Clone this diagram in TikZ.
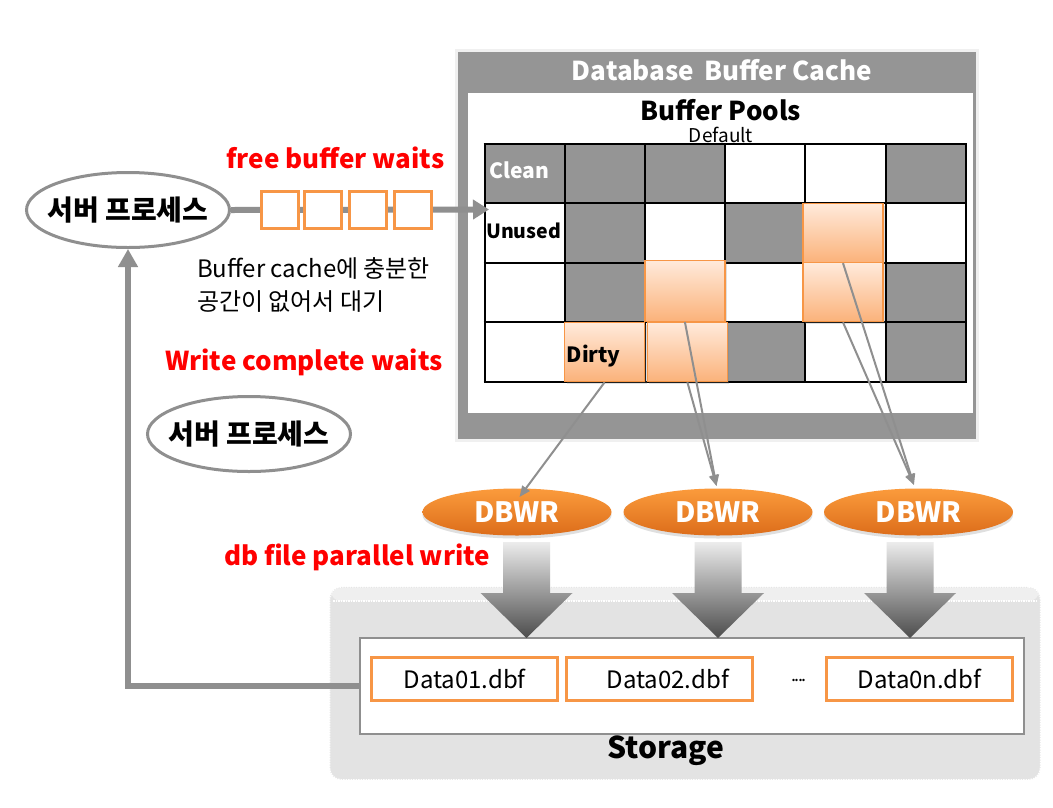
\documentclass[tikz,border=0pt]{standalone}
\usepackage{fontspec}
\setmainfont{Noto Sans CJK KR}
\usetikzlibrary{arrows.meta,shadows,calc,shapes.geometric}
\definecolor{frameG}{HTML}{959595}
\definecolor{orangeB}{HTML}{F79646}
\definecolor{peachT}{HTML}{FFEADB}
\definecolor{peachB}{HTML}{FBB27A}
\definecolor{lineG}{HTML}{8F8F8F}
\definecolor{dbT}{HTML}{FB9B3C}
\definecolor{dbB}{HTML}{DC6C1A}
\definecolor{redT}{HTML}{FF0000}
\definecolor{stoG}{HTML}{E3E3E3}
\newcommand{\fs}[1]{\fontsize{#1}{#1}\selectfont}
\begin{document}
\begin{tikzpicture}[x=1pt,y=-1pt,
  proc/.style={ellipse,draw=lineG,line width=3pt,fill=white,minimum width=203pt,minimum height=75pt,inner sep=0pt},
  proctext/.style={font=\bfseries\fs{28},inner sep=0pt},
  qbox/.style={draw=orangeB,line width=3pt,fill=white,minimum width=37pt,minimum height=37pt,inner sep=0pt},
  ocell/.style={draw=orangeB,line width=1.2pt,top color=peachT,bottom color=peachB,inner sep=0pt,drop shadow={opacity=0.25,shadow xshift=2pt,shadow yshift=-2pt}},
  dbwr/.style={ellipse,top color=dbT,bottom color=dbB,minimum width=189pt,minimum height=47pt,inner sep=0pt,drop shadow={opacity=0.25,shadow xshift=0pt,shadow yshift=-3pt}},
  dbtext/.style={text=white,font=\bfseries\fs{28},inner sep=0pt},
  fbox/.style={draw=orangeB,line width=3pt,fill=white,minimum width=186pt,minimum height=43pt,inner sep=0pt,font=\fs{24}},
  redlab/.style={text=redT,font=\bfseries\fs{26},inner sep=0pt},
  conn/.style={draw=lineG,line width=2pt,-{Triangle[width=9pt,length=11pt]}},
  thick/.style={draw=lineG,line width=6pt},
]
\useasboundingbox (0,0) rectangle (1053,807);
\fill[white] (0,0) rectangle (1053,807);

% Database Buffer Cache frame
\node[fill=frameG,draw=gray!12,line width=3pt,minimum width=521pt,minimum height=390pt,inner sep=0pt] (dbc) at (716.5,245) {};
\node[fill=white,minimum width=505pt,minimum height=320pt,inner sep=0pt] (pool) at (720.5,253) {};
\node[text=white,font=\bfseries\fs{26},inner sep=0pt] (dbct) at (722,70) {Database\, Buffer Cache};
\node[font=\bfseries\fs{26},inner sep=0pt] (bp) at (721,110) {Buffer Pools};
\node[font=\fs{19},inner sep=0pt] (def) at (721,135) {Default};

% grid cells
\foreach \r/\c in {0/0,0/1,0/2,0/5,1/1,1/3,2/1,2/5,3/3,3/5}{
  \fill[frameG] ({484.5+80.2*\c},{144+59.4*\r}) rectangle ++(80.2,59.4);
}
\foreach \i in {0,...,6}{
  \draw[line width=2pt] ({484.5+80.2*\i},143) -- ({484.5+80.2*\i},382.6);
}
\foreach \j in {0,...,4}{
  \draw[line width=2pt] (483.5,{144+59.4*\j}) -- (966.7,{144+59.4*\j});
}
% dirty cells
\node[ocell,minimum width=80pt,minimum height=59pt] (o14) at (843,233) {};
\node[ocell,minimum width=80pt,minimum height=59pt] (o24) at (843,292.2) {};
\node[ocell,minimum width=80pt,minimum height=61pt] (o22) at (684.9,290.9) {};
\node[ocell,minimum width=80pt,minimum height=59pt] (o32) at (604.6,352.2) {};
\node[ocell,minimum width=80pt,minimum height=59pt] (o33) at (687.4,352.2) {};

\node[anchor=west,text=white,font=\bfseries\fs{21},inner sep=0pt] (clean) at (489,170) {Clean};
\node[anchor=west,font=\bfseries\fs{19.5},inner sep=0pt] (unused) at (486,231) {Unused};
\node[anchor=west,font=\bfseries\fs{21},inner sep=0pt] (dirty) at (566.5,356) {Dirty};

% server process 1 and queue
\node[proc] (e1) at (128,210) {};
\node[proctext] (e1t) at (e1) {서버 프로세스};
\coordinate (qend) at (489,209.5);
\draw[thick,-{Triangle[width=19pt,length=16pt]}] (e1.east) -- (qend);
\node[qbox] (q1) at (280.4,210) {};
\node[qbox] (q2) at (323.3,210) {};
\node[qbox] (q3) at (368.3,210) {};
\node[qbox] (q4) at (412.8,210) {};

\node[redlab] (fbw) at (335.5,158) {free buffer waits};
\node[anchor=west,font=\fs{24},inner sep=0pt] (bc1) at (197,268) {Buffer cache에 충분한};
\node[anchor=west,font=\fs{24},inner sep=0pt] (bc2) at (197,302) {공간이 없어서 대기};
\node[redlab] (wcw) at (304,362) {Write complete waits};
\node[proc] (e2) at (249,434) {};
\node[proctext] (e2t) at (e2) {서버 프로세스};
\node[redlab] (dfpw) at (357,557) {db file parallel write};

% DBWR
\node[dbwr] (d1) at (517,512) {};
\node[dbwr] (d2) at (718,512) {};
\node[dbwr] (d3) at (918.5,512) {};
\node[dbtext] (d1t) at (d1) {DBWR};
\node[dbtext] (d2t) at (d2) {DBWR};
\node[dbtext] (d3t) at (d3) {DBWR};
\coordinate (t1) at (519.5,497);
\coordinate (t2) at (716.5,486);
\coordinate (t3) at (914,485);
\draw[conn] (o32.south) -- (t1);
\draw[conn] (o22.south) -- (t2);
\draw[conn] (o33.south) -- (t2);
\draw[conn] (o14.south) -- (t3);
\draw[conn] (o24.south) -- (t3);

% Storage
\node[rounded corners=12pt,fill=stoG,draw=white,densely dotted,line width=1.5pt,minimum width=711pt,minimum height=193pt,inner sep=0pt] (st) at (685,683.4) {};
\fill[white,opacity=0.45,rounded corners=10pt] (331,588) rectangle (1039,601);
\draw[white,densely dotted,line width=1.5pt] (333,601) -- (1037,601);
\node[fill=white,draw=lineG,line width=2.5pt,minimum width=664pt,minimum height=96pt,inner sep=0pt] (inner) at (692,686.2) {};
\node[fbox] (f1) at (464.6,678.6) {Data01.dbf};
\node[fbox] (f2) at (659.7,678.6) {\hspace*{16pt}Data02.dbf};
\node[fbox] (fn) at (919.7,678.6) {Data0n.dbf};
\node[font=\fs{18},inner sep=0pt] (dots) at (799.6,680) {\kern-1.5pt.\kern-1.5pt.\kern-1.5pt.\kern-1.5pt.};
\node[font=\bfseries\fs{30},inner sep=0pt] (stl) at (666,751) {Storage};

% block arrows
\foreach \cx in {526.5,718,910}{
  \shade[top color=gray!15,bottom color=black!70] (\cx-23.5,542) -- (\cx+23.5,542) -- (\cx+23.5,593) -- (\cx+46,593) -- (\cx,638) -- (\cx-46,593) -- (\cx-23.5,593) -- cycle;
}

% return path
\draw[thick,-{Triangle[width=19pt,length=18pt]}] (inner.west) -| (e1.south);
\end{tikzpicture}
\end{document}
